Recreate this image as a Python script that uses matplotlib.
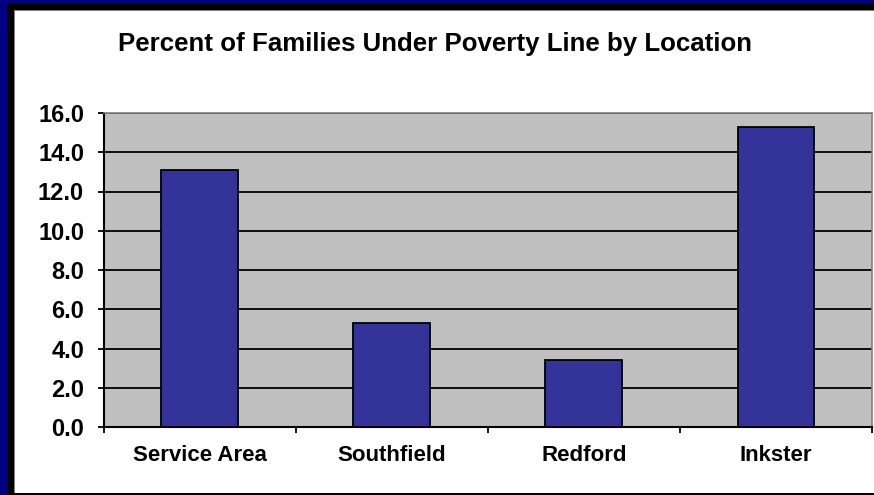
import matplotlib
matplotlib.use("Agg")
import matplotlib.pyplot as plt
from matplotlib.patches import Rectangle
from matplotlib.ticker import FixedLocator, NullFormatter

categories = ["Service Area", "Southfield", "Redford", "Inkster"]
values = [13.1, 5.3, 3.4, 15.3]
yticks = [0, 2, 4, 6, 8, 10, 12, 14, 16]
title = "Percent of Families Under Poverty Line by Location"

plt.rcParams['font.family'] = ['Liberation Sans', 'DejaVu Sans']

W, H = 874, 495
fig = plt.figure(figsize=(W/100, H/100), dpi=100)
fig.patch.set_facecolor('white')

def frect(x0, y0, x1, y1, color):
    # pixel coords from top-left
    fig.add_artist(Rectangle((x0/W, 1 - y1/H), (x1-x0)/W, (y1-y0)/H,
                             transform=fig.transFigure, facecolor=color,
                             edgecolor='none', zorder=-5))

# navy and black frame
frect(0, 0, W, 10, '#000000')
frect(0, 0, 14, H, '#000000')
frect(0, 0, W, 3, '#000080')
frect(0, 0, 7, H, '#000080')
frect(14, 10, W, 11, '#808080')
frect(14, 10, 15, H, '#808080')
frect(14, 493, W, 495, '#000000')

left, right, top, bottom = 103.5, 872, 113, 427
ax = fig.add_axes([left/W, 1 - bottom/H, (right-left)/W, (bottom-top)/H])
ax.set_facecolor('#C0C0C0')

x = list(range(len(categories)))
ax.bar(x, values, width=0.4, color='#333399', edgecolor='black', linewidth=1.3, zorder=3)

ax.set_xlim(-0.5, len(categories) - 0.5)
ax.set_ylim(0, 16)
ax.set_yticks(yticks)
ax.set_yticklabels([f"{v:.1f}" for v in yticks], fontsize=17, fontweight='bold')
ax.yaxis.grid(True, color='black', linewidth=1.3, zorder=1)
ax.set_axisbelow(True)

ax.set_xticks(x)
ax.set_xticklabels(categories, fontsize=16, fontweight='bold')
ax.xaxis.set_minor_locator(FixedLocator([i - 0.5 for i in range(len(categories) + 1)]))
ax.xaxis.set_minor_formatter(NullFormatter())
ax.tick_params(axis='x', which='major', length=0, pad=13)
ax.tick_params(axis='x', which='minor', length=4, width=1.3, direction='out')
ax.tick_params(axis='y', length=4, width=1.3, direction='out', pad=10)

for s in ['left', 'bottom']:
    ax.spines[s].set_color('black')
    ax.spines[s].set_linewidth(1.5)
for s in ['top', 'right']:
    ax.spines[s].set_color('#808080')
    ax.spines[s].set_linewidth(1.2)

fig.text(435/W, 1 - 44/H, title, ha='center', va='center', fontsize=18.6, fontweight='bold')

fig.savefig("out.png", dpi=100)
